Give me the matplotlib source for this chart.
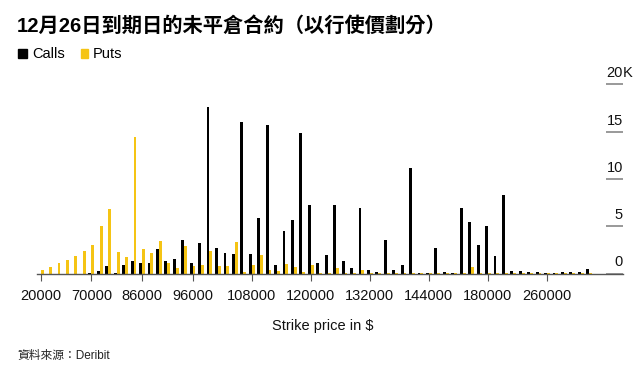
import matplotlib
matplotlib.use("Agg")
import matplotlib.pyplot as plt
import matplotlib.transforms as mtransforms
from matplotlib.patches import Rectangle
import numpy as np

plt.rcParams['font.family'] = ['Liberation Sans', 'Noto Sans CJK TC', 'DejaVu Sans']

strikes = [20000, 30000, 40000, 50000, 60000, 65000,
           70000, 75000, 80000, 82000, 84000, 85000,
           86000, 88000, 90000, 92000, 94000, 95000,
           96000, 98000, 100000, 102000, 104000, 105000, 106000,
           108000, 110000, 112000, 114000, 115000, 116000, 118000,
           120000, 122000, 124000, 125000, 126000, 128000, 130000,
           132000, 134000, 135000, 136000, 138000, 140000, 142000,
           144000, 145000, 150000, 155000, 160000, 170000, 175000,
           180000, 190000, 200000, 210000, 220000, 240000, 250000,
           260000, 280000, 300000, 320000, 350000, 400000]

calls = [0, 0, 0, 0, 0, 0,
         30, 280, 810, 30, 880, 1270,
         1060, 1090, 2610, 1270, 1480, 3540,
         1160, 3260, 17640, 2740, 2170, 2030, 16060,
         2100, 5900, 15740, 920, 4480, 5610, 14900,
         7200, 1060, 2000, 7270, 1270, 600, 6950,
         420, 140, 3500, 390, 850, 11200, 100,
         100, 2650, 180, 100, 6880, 5450, 3000,
         4980, 1800, 8330, 280, 280, 140, 140,
         100, 100, 140, 140, 140, 490]

puts = [420, 635, 1060, 1410, 1800, 2400,
        3000, 5010, 6780, 2260, 1700, 14400,
        2540, 2120, 3420, 1130, 565, 2870,
        740, 880, 2360, 740, 770, 3300, 210,
        880, 2000, 390, 280, 990, 670, 210,
        880, 70, 30, 530, 30, 30, 350,
        30, 30, 70, 30, 30, 70, 30,
        30, 30, 30, 30, 70, 670, 30,
        30, 30, 30, 30, 30, 30, 30,
        30, 30, 30, 30, 30, 30]

tick_strikes = [20000, 70000, 86000, 96000, 108000, 120000, 132000, 144000, 180000, 260000]
y_ticks = [0, 5000, 10000, 15000, 20000]
y_labels = ["0", "5", "10", "15", "20"]

BLACK = '#000000'
YELLOW = '#F5C414'

W, H = 644, 367
fig = plt.figure(figsize=(W / 100, H / 100), dpi=100)
ax_left = 36.5 / W
ax_right = 623 / W
ax_bottom = (H - 273.5) / H
ax_top = (H - 84.3) / H
ax = fig.add_axes([ax_left, ax_bottom, ax_right - ax_left, ax_top - ax_bottom])

x = np.arange(len(strikes))
bw = 0.34
ax.bar(x - bw / 2, calls, width=bw, color=BLACK, linewidth=0)
ax.bar(x + bw / 2, puts, width=bw, color=YELLOW, linewidth=0)

ax.set_xlim(-0.5, 69)
ax.set_ylim(0, 20000)

for s in ['top', 'right', 'left']:
    ax.spines[s].set_visible(False)
ax.spines['bottom'].set_color('#555555')
ax.spines['bottom'].set_linewidth(1.0)

tick_idx = [strikes.index(s) for s in tick_strikes]
ax.set_xticks(tick_idx)
ax.set_xticklabels([str(s) for s in tick_strikes])
ax.tick_params(axis='x', length=5, width=0.8, color='#555555', pad=6,
               labelsize=10.5, labelcolor='#111111')
ax.set_yticks([])

trans = mtransforms.blended_transform_factory(ax.transAxes, ax.transData)
for yv, lab in zip(y_ticks, y_labels):
    ax.plot([0.971, 1.0], [yv, yv], transform=trans, color='#888888',
            lw=1.2, clip_on=False, solid_capstyle='butt')
    ax.text(1.0, yv + 750, lab, transform=trans, ha='right', va='baseline',
            fontsize=10.5, color='#111111')
ax.text(1.0, 20000 + 750, "K", transform=trans, ha='left', va='baseline',
        fontsize=10.5, color='#111111')

# Title
fig.text(17 / W, 1 - 26 / H, "12月26日到期日的未平倉合約（以行使價劃分）",
         fontsize=14.6, fontweight='bold', va='center', ha='left', color='#000000',
         family=['Liberation Sans', 'Noto Sans CJK TC'])

# Legend
fig.patches.append(Rectangle((18.3 / W, 1 - 58.3 / H), 8.5 / W, 9 / H,
                             transform=fig.transFigure, color=BLACK))
fig.text(32.5 / W, 1 - 53.8 / H, "Calls", fontsize=10.5, va='center', ha='left')
fig.patches.append(Rectangle((80.5 / W, 1 - 58.3 / H), 7.5 / W, 9 / H,
                             transform=fig.transFigure, color=YELLOW))
fig.text(92.5 / W, 1 - 53.8 / H, "Puts", fontsize=10.5, va='center', ha='left')

# X axis title
fig.text(323 / W, 1 - 326 / H, "Strike price in $", fontsize=10.5,
         va='center', ha='center', color='#111111')

# Source
fig.text(17 / W, 1 - 356 / H, "資料來源：Deribit", fontsize=8.5,
         va='center', ha='left', color='#222222',
         family=['Liberation Sans', 'Noto Sans CJK TC'])

fig.savefig("out.png", dpi=100)
